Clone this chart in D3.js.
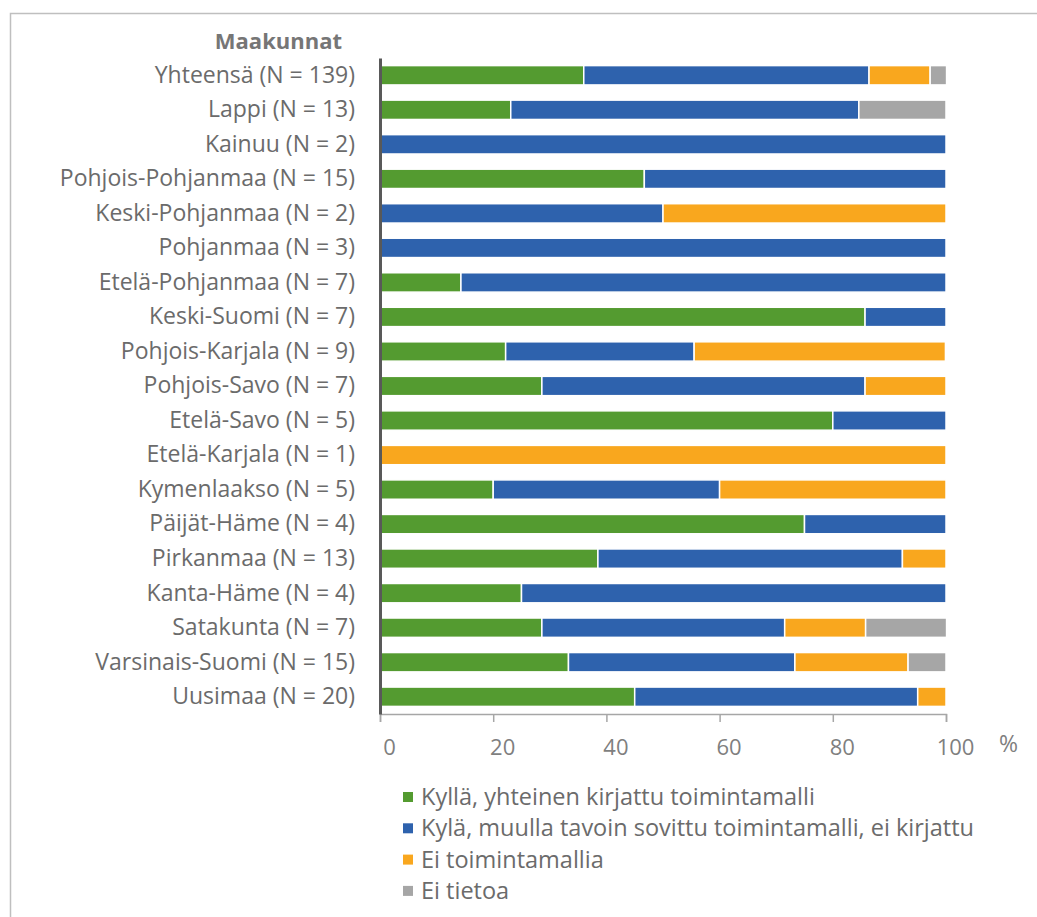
<!DOCTYPE html>
<html>
<head>
<meta charset="utf-8">
<script src="https://cdn.jsdelivr.net/npm/d3@7"></script>
<style>
    body { margin: 0; background: #fff; }
    text { font-family: "Open Sans", Lato, sans-serif; }
</style>
</head>
<body>
<svg id="chart" width="1037" height="917"></svg>
<script>
// categories, top to bottom
const regions = [
    'Yhteensä (N = 139)', 'Lappi (N = 13)', 'Kainuu (N = 2)', 'Pohjois-Pohjanmaa (N = 15)',
    'Keski-Pohjanmaa (N = 2)', 'Pohjanmaa (N = 3)', 'Etelä-Pohjanmaa (N = 7)', 'Keski-Suomi (N = 7)',
    'Pohjois-Karjala (N = 9)', 'Pohjois-Savo (N = 7)', 'Etelä-Savo (N = 5)', 'Etelä-Karjala (N = 1)',
    'Kymenlaakso (N = 5)', 'Päijät-Häme (N = 4)', 'Pirkanmaa (N = 13)', 'Kanta-Häme (N = 4)',
    'Satakunta (N = 7)', 'Varsinais-Suomi (N = 15)', 'Uusimaa (N = 20)'
];

// percent values per series
const written   = [36.0, 23.1, 0, 46.7, 0, 0, 14.3, 85.7, 22.2, 28.6, 80, 0, 20, 75, 38.5, 25, 28.6, 33.3, 45];
const agreed    = [50.4, 61.5, 100, 53.3, 50, 100, 85.7, 14.3, 33.3, 57.1, 20, 0, 40, 25, 53.8, 75, 42.9, 40, 50];
const noModel   = [10.8, 0, 0, 0, 50, 0, 0, 0, 44.4, 14.3, 0, 100, 40, 0, 7.7, 0, 14.3, 20, 5];
const noInfo    = [2.9, 15.4, 0, 0, 0, 0, 0, 0, 0, 0, 0, 0, 0, 0, 0, 0, 14.3, 6.7, 0];

const seriesNames = [
    'Kyllä, yhteinen kirjattu toimintamalli',
    'Kylä, muulla tavoin sovittu toimintamalli, ei kirjattu',
    'Ei toimintamallia',
    'Ei tietoa'
];
const colors = ['#549b30', '#2e62ad', '#f9a71e', '#a6a6a6'];
const xTicks = [0, 20, 40, 60, 80, 100];

const svg = d3.select('#chart');

// chart frame
svg.append('rect')
    .attr('x', 10.5).attr('y', 13.5)
    .attr('width', 1100).attr('height', 1000)
    .attr('fill', 'none')
    .attr('stroke', '#bfbfbf')
    .attr('stroke-width', 1.5);

const plotLeft = 380, plotRight = 946, plotTop = 58, plotBottom = 714;

const x = d3.scaleLinear().domain([0, 100]).range([plotLeft, plotRight]);
const y = d3.scaleBand().domain(regions).range([plotTop, plotBottom]).paddingInner(0.44).paddingOuter(0.22);

const rows = regions.map((r, i) => ({
    region: r, s0: written[i], s1: agreed[i], s2: noModel[i], s3: noInfo[i]
}));
const stack = d3.stack().keys(['s0', 's1', 's2', 's3'])(rows);

svg.append('g')
    .selectAll('g')
    .data(stack)
    .join('g')
    .attr('fill', (d, i) => colors[i])
    .selectAll('rect')
    .data(d => d.filter(p => p[1] - p[0] > 0))
    .join('rect')
    .attr('x', d => x(d[0]))
    .attr('y', d => y(d.data.region))
    .attr('width', d => x(d[1]) - x(d[0]))
    .attr('height', y.bandwidth())
    .attr('stroke', '#fff')
    .attr('stroke-width', 1.5);

// bottom axis
const xAxis = svg.append('g')
    .attr('transform', `translate(0,${plotBottom})`)
    .call(d3.axisBottom(x).tickValues(xTicks).tickSize(8).tickFormat(d3.format('d')));
xAxis.select('.domain').attr('stroke', '#a6a6a6').attr('stroke-width', 1.5);
xAxis.selectAll('.tick line').attr('stroke', '#a6a6a6').attr('stroke-width', 1.5);
xAxis.selectAll('.tick text')
    .attr('dx', 9)
    .attr('y', 25)
    .attr('fill', '#7f7f7f')
    .style('font-size', '22px')
    .style('font-family', '"Open Sans", sans-serif');

svg.append('text')
    .attr('x', 999).attr('y', 752)
    .attr('fill', '#7f7f7f')
    .style('font-size', '23px')
    .text('%');

// left axis
const yAxis = svg.append('g')
    .attr('transform', `translate(${plotLeft},0)`)
    .call(d3.axisLeft(y).tickSize(0).tickPadding(25));
yAxis.select('.domain').attr('stroke', '#595959').attr('stroke-width', 3);
yAxis.selectAll('.tick text')
    .attr('fill', '#6b6b6b')
    .style('font-size', '23px')
    .style('font-family', '"Open Sans", sans-serif');

svg.append('text')
    .attr('x', 342).attr('y', 49)
    .attr('text-anchor', 'end')
    .attr('fill', '#767676')
    .style('font-size', '22px')
    .style('font-weight', 'bold')
    .text('Maakunnat');

// legend
const legend = svg.append('g')
    .selectAll('g')
    .data(seriesNames)
    .join('g')
    .attr('transform', (d, i) => `translate(403,${797 + i * 31.3})`);
legend.append('rect')
    .attr('x', 0).attr('y', -5)
    .attr('width', 10).attr('height', 10)
    .attr('fill', (d, i) => colors[i]);
legend.append('text')
    .attr('x', 18).attr('y', 8)
    .attr('fill', '#6b6b6b')
    .style('font-size', '23.5px')
    .text(d => d);
</script>
</body>
</html>
